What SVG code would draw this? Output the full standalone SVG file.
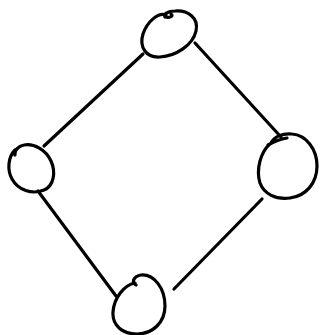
<svg xmlns="http://www.w3.org/2000/svg" width="320" height="335" viewBox="0 0 320 335">
<style>
.s{fill:none;stroke:#000;stroke-width:3.2;stroke-linecap:round;stroke-linejoin:round}
</style>
<rect width="320" height="335" fill="#fff"/>
<g id="edges">
<path class="s" d="M44,146 L143,54"/>
<path class="s" d="M195,43 L281,137"/>
<path class="s" d="M262,199 L174,289"/>
<path class="s" d="M38,191 L116,296"/>
</g>
<g id="node-top">
<path class="s" d="M166,15 C158,12 147,22 143,34 C139,47 146,58 160,57 C176,56 193,45 196,31 C199,18 188,10 175,11 C168,11 163,14 165,17 C170,18 174,16 171,14"/>
</g>
<g id="node-left">
<path class="s" d="M15,150 C8,157 7,170 12,179 C18,190 32,195 44,190 C54,186 56,172 51,161 C46,150 34,143 24,145 C18,146 14,151 15,155"/>
</g>
<g id="node-right">
<path class="s" d="M271,143 C260,152 256,170 260,183 C264,194 276,200 290,198 C306,196 317,183 317,166 C317,149 306,135 292,134 C282,133 274,137 271,143 M268,145 C275,141 281,139 287,138"/>
</g>
<g id="node-bottom">
<path class="s" d="M135,283 C124,285 114,298 113,312 C112,326 123,334 137,334 C153,334 165,322 165,306 C165,288 154,274 141,275 C134,276 131,282 136,285"/>
</g>
</svg>
